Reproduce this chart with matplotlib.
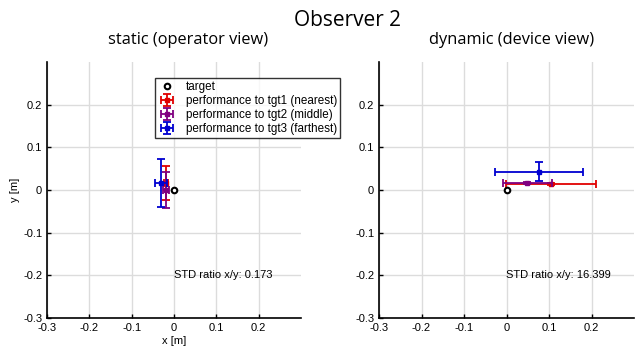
import matplotlib
matplotlib.use("Agg")
import matplotlib.pyplot as plt
import numpy as np

# static (operator view): centre, x half-width, y half-width per target
static_x = [-0.019, -0.019, -0.031]
static_y = [0.017, 0.000, 0.016]
static_xerr = [0.004, 0.008, 0.014]
static_yerr = [0.040, 0.042, 0.056]

# dynamic (device view)
dyn_x = [0.105, 0.049, 0.076]
dyn_y = [0.014, 0.016, 0.043]
dyn_xerr = [0.106, 0.057, 0.104]
dyn_yerr = [0.003, 0.003, 0.023]

labels = ["performance to tgt1 (nearest)", "performance to tgt2 (middle)",
          "performance to tgt3 (farthest)"]
colors = ["#e00000", "#800080", "#0000d0"]
ticks = [-0.3, -0.2, -0.1, 0, 0.1, 0.2]
tick_labels = ["-0.3", "-0.2", "-0.1", "0", "0.1", "0.2"]

plt.rcParams['font.family'] = ['Liberation Sans', 'DejaVu Sans']
title_font = ['Open Sans', 'DejaVu Sans']

fig = plt.figure(figsize=(6.35, 3.52), dpi=100)
ax1 = fig.add_axes([47 / 635, 34 / 352, 254 / 635, 256 / 352])
ax2 = fig.add_axes([379 / 635, 34 / 352, 255 / 635, 256 / 352])


def draw(ax, xs, ys, xe, ye, ratio, title, tx):
    handles = []
    t, = ax.plot([0], [0], 'o', mfc='white', mec='black', mew=1.5, ms=4,
                 zorder=5, label='target')
    handles.append(t)
    for i in range(3):
        h = ax.errorbar(xs[i], ys[i], xerr=xe[i], yerr=ye[i], fmt='s', ms=2.5,
                        color=colors[i], ecolor=colors[i], elinewidth=1.3,
                        capsize=3, capthick=1.3, label=labels[i], zorder=3 + i * 0.1)
        handles.append(h)
    ax.set_xlim(-0.3, 0.3)
    ax.set_ylim(-0.3, 0.3)
    ax.set_xticks(ticks)
    ax.set_yticks(ticks)
    ax.set_xticklabels(tick_labels)
    ax.set_yticklabels(tick_labels)
    ax.grid(True, color='#dcdcdc', linewidth=1)
    ax.set_axisbelow(True)
    for s in ['top', 'right']:
        ax.spines[s].set_visible(False)
    for s in ['left', 'bottom']:
        ax.spines[s].set_linewidth(1.2)
    ax.tick_params(direction='in', length=3, labelsize=8, width=1)
    ax.text(0, -0.2, "STD ratio x/y: %s" % ratio, fontsize=8, va='center')
    ax.text(tx, 1.055, title, transform=ax.transAxes, fontsize=11.8,
            family=title_font, ha='center', va='bottom')
    return handles


h = draw(ax1, static_x, static_y, static_xerr, static_yerr, "0.173",
         "static (operator view)", 0.555)
draw(ax2, dyn_x, dyn_y, dyn_xerr, dyn_yerr, "16.399",
     "dynamic (device view)", 0.52)

ax1.set_xlabel("x [m]", fontsize=8, labelpad=2)
ax1.set_ylabel("y [m]", fontsize=8, labelpad=2)

leg = fig.legend(handles=h, labels=["target"] + labels, loc='upper left',
                 bbox_to_anchor=(155 / 635, 1 - 78 / 352), fontsize=8.4,
                 frameon=True, fancybox=False, edgecolor='black',
                 borderpad=0.25, labelspacing=0.18, handlelength=1.6,
                 handletextpad=0.8, borderaxespad=0)
leg.get_frame().set_linewidth(1)

fig.text(0.548, 1 - 20 / 352, "Observer 2", fontsize=15, family=title_font,
         ha='center', va='center')

fig.savefig("out.png", dpi=100)
